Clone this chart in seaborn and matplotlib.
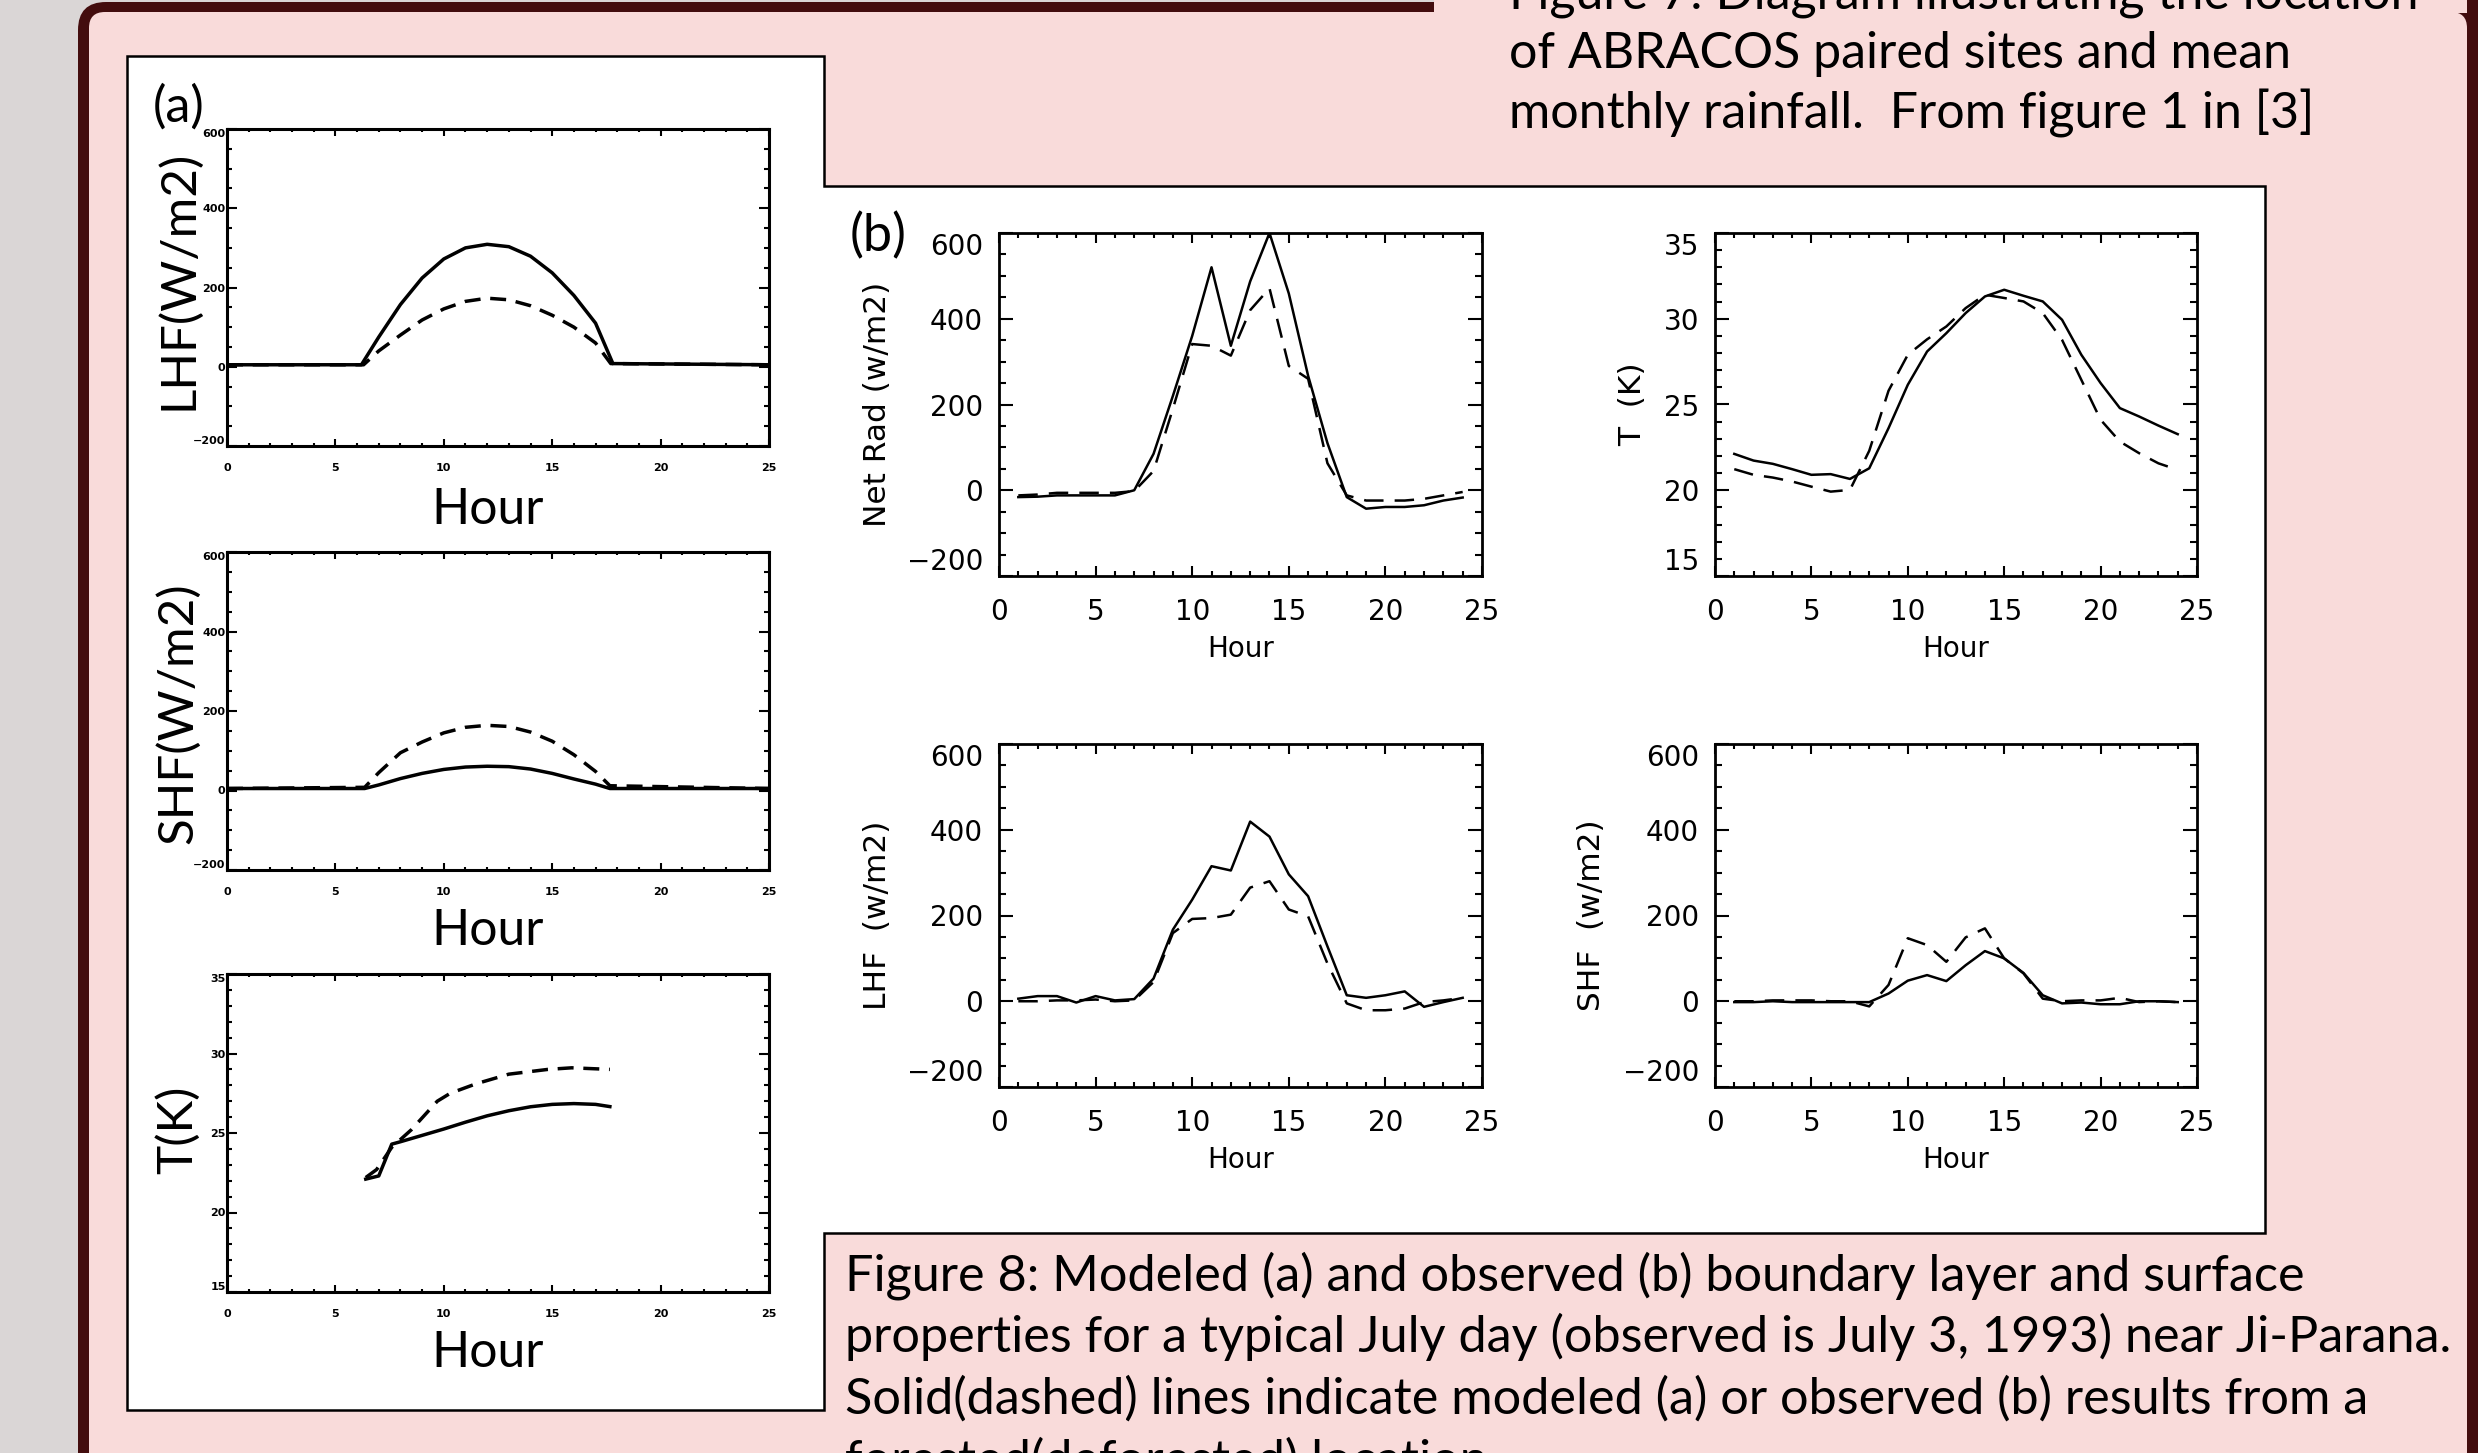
import matplotlib
matplotlib.use("Agg")
import matplotlib.pyplot as plt
import seaborn as sns
from matplotlib.patches import FancyBboxPatch, Rectangle, Polygon
from matplotlib.transforms import Affine2D
from matplotlib.ticker import MultipleLocator
from matplotlib import font_manager as fm

# ---------------------------------------------------------------- data
# (a) modeled, solid = forested, dashed = deforested
a_lhf_hour_forest = [0, 6.2, 7, 8, 9, 10, 11, 12, 13, 14, 15, 16, 17, 17.8, 25]
a_lhf_forest = [5, 5, 75, 157, 224, 272, 300, 309, 303, 279, 237, 180, 110, 8, 5]
a_lhf_hour_defor = [0, 6.3, 7, 8, 9, 10, 11, 12, 13, 14, 15, 16, 17, 17.7, 25]
a_lhf_defor = [5, 5, 40, 80, 118, 146, 165, 173, 169, 154, 130, 100, 60, 8, 5]

a_shf_hour = [0, 6.35, 7, 8, 9, 10, 11, 12, 13, 14, 15, 16, 17, 17.66, 25]
a_shf_forest = [5, 5, 14, 30, 43, 53, 59, 61, 60, 54, 43, 29, 16, 5, 5]
a_shf_defor = [5, 8, 45, 95, 122, 145, 159, 164, 161, 147, 124, 90, 48, 12, 5]

a_t_hour_forest = [6.4, 7.0, 7.6, 8, 9, 10, 11, 12, 13, 14, 15, 16, 17, 17.66]
a_t_forest = [22.1, 22.3, 24.3, 24.45, 24.85, 25.25, 25.68, 26.08, 26.4, 26.65,
              26.8, 26.85, 26.8, 26.66]
a_t_hour_defor = [6.4, 6.9, 7.6, 8.5, 9.7, 10.3, 11.5, 13.0, 14.8, 15.9, 17.66]
a_t_defor = [22.2, 22.7, 24.1, 25.2, 27.0, 27.5, 28.1, 28.7, 29.0, 29.1, 29.0]

# (b) observed, July 3 1993, solid = forested, dashed = deforested
b_hour = list(range(1, 25))
b_netrad_forest = [-16, -15, -12, -12, -12, -12, 0, 85, 220, 360, 520, 337,
                   487, 600, 459, 267, 110, -16, -43, -39, -39, -35, -24, -17]
b_netrad_defor = [-12, -10, -6, -6, -6, -6, -2, 45, 190, 341, 337, 314,
                  420, 471, 290, 260, 63, -12, -24, -24, -24, -20, -12, -4]
b_t_forest = [22.12, 21.73, 21.54, 21.23, 20.9, 20.94, 20.66, 21.28, 23.62, 26.15,
              28.09, 29.16, 30.33, 31.3, 31.69, 31.34, 31.01, 29.94, 27.9, 26.25,
              24.79, 24.3, 23.77, 23.27]
b_t_defor = [21.23, 20.9, 20.74, 20.51, 20.21, 19.92, 20.02, 22.3, 25.8, 27.9,
             28.8, 29.55, 30.62, 31.4, 31.21, 31.01, 30.33, 28.77, 26.44, 24.11,
             22.84, 22.16, 21.57, 21.19]
b_lhf_forest = [6, 12, 12, -3, 12, 2, 5, 53, 167, 237, 315, 305, 419, 384, 296,
                245, 128, 14, 8, 14, 23, -13, -2, 8]
b_lhf_defor = [0, 0, 2, 2, 4, 0, 2, 45, 159, 192, 194, 202, 265, 280, 214, 198,
               88, -5, -21, -21, -17, -2, 2, 8]
b_shf_forest = [-2, -2, 0, -2, -2, -2, -2, -2, 18, 48, 61, 47, 84, 117, 100, 66,
                14, -5, -3, -7, -7, 0, 0, -2]
b_shf_defor = [0, 0, 2, 2, 2, 0, 0, -12, 38, 147, 131, 92, 149, 170, 100, 65,
               6, 0, 2, 2, 8, -2, 0, -2]

flux_ticks = [-200, 0, 200, 400, 600]
temp_ticks = [15, 20, 25, 30, 35]
hour_ticks = [0, 5, 10, 15, 20, 25]

a_ylabels = ["LHF(W/m2)", "SHF(W/m2)", "T(K)"]
b_ylabels = ["Net Rad (w/m2)", "T  (K)", "LHF  (w/m2)", "SHF  (w/m2)"]

top_lines = ["Figure 7: Diagram illustrating the location",
             "of ABRACOS paired sites and mean",
             "monthly rainfall.  From figure 1 in [3]"]
caption_lines = ["Figure 8: Modeled (a) and observed (b) boundary layer and surface",
                 "properties for a typical July day (observed is July 3, 1993) near Ji-Parana.",
                 "Solid(dashed) lines indicate modeled (a) or observed (b) results from a",
                 "forested(deforested) location."]

# ---------------------------------------------------------------- style
plt.rcParams['lines.scale_dashes'] = False
plt.rcParams['font.family'] = ['DejaVu Sans']
names = {f.name for f in fm.fontManager.ttflist}
POSTER = 'Lato' if 'Lato' in names else 'DejaVu Sans'
NARROW = 'Liberation Sans Narrow' if 'Liberation Sans Narrow' in names else 'DejaVu Sans'

GREY = '#DAD6D6'
PINK = '#F9DBDA'
MAROON = '#430D0E'

W, H = 2478, 1453
fig = plt.figure(figsize=(W / 100, H / 100), dpi=100)
fig.patch.set_facecolor(GREY)
PX = Affine2D().scale(1.0 / W, -1.0 / H).translate(0, 1) + fig.transFigure

# poster panel background
fig.add_artist(FancyBboxPatch((78, 2), 2478 - 78 + 40, 1700,
                              boxstyle='round,pad=0,rounding_size=28',
                              transform=PX, fc=MAROON, ec='none', zorder=-10))
fig.add_artist(FancyBboxPatch((89, 12), 2467 - 89, 1700,
                              boxstyle='round,pad=0,rounding_size=16',
                              transform=PX, fc=PINK, ec='none', zorder=-9))
fig.add_artist(Rectangle((1434, 0), 2467 - 1434, 13, transform=PX,
                         fc=PINK, ec='none', zorder=-8))
fig.add_artist(Rectangle((2467, 0), 12, H, transform=PX,
                         fc=MAROON, ec='none', zorder=-8))
# white figure frame (union of (a) and (b) boxes)
frame = [(127, 56), (824, 56), (824, 186), (2265, 186), (2265, 1233),
         (824, 1233), (824, 1410), (127, 1410)]
fig.add_artist(Polygon(frame, closed=True, transform=PX, fc='white',
                       ec='black', lw=1.8, zorder=-5, joinstyle='miter'))


def axes_px(x0, y0, x1, y1):
    ax = fig.add_axes([x0 / W, 1 - y1 / H, (x1 - x0) / W, (y1 - y0) / H])
    ax.set_facecolor('white')
    return ax


def draw(ax, x, y, lw, dash=None):
    sns.lineplot(x=x, y=y, ax=ax, color='black', linewidth=lw,
                 estimator=None, sort=False)
    ln = ax.lines[-1]
    if dash is not None:
        ln.set_dashes(dash)


def fmt(v):
    return str(v).replace('-', '\u2212')


def style(ax, yticks, yminor, ylim, family, fs, weight, xpad, ypad,
          xlen, ylen, spw, tw):
    ax.set_xlim(0, 25)
    ax.set_ylim(*ylim)
    ax.set_xticks(hour_ticks)
    ax.set_yticks(yticks)
    ax.xaxis.set_minor_locator(MultipleLocator(1))
    ax.yaxis.set_minor_locator(MultipleLocator(yminor))
    ax.tick_params(which='both', direction='in', top=True, right=True,
                   width=tw, colors='black')
    ax.tick_params(axis='x', which='major', length=xlen, pad=xpad)
    ax.tick_params(axis='x', which='minor', length=xlen / 2)
    ax.tick_params(axis='y', which='major', length=ylen, pad=ypad)
    ax.tick_params(axis='y', which='minor', length=ylen / 2)
    ax.set_xticklabels([fmt(v) for v in hour_ticks], fontsize=fs,
                       family=family, fontweight=weight)
    labs = ax.set_yticklabels([fmt(v) for v in yticks], fontsize=fs,
                              family=family, fontweight=weight)
    labs[0].set_va('bottom')
    labs[-1].set_va('top')
    for s in ax.spines.values():
        s.set_linewidth(spw)
        s.set_color('black')
    ax.set_xlabel('')
    ax.set_ylabel('')


# ---------------------------------------------------------------- (a) panels
A_LW = 2.5
A_DASH = (11.5, 7.0)
a_boxes = [(227, 129, 769, 446), (227, 552, 769, 870), (227, 974, 769, 1292)]
a_axes = [axes_px(*b) for b in a_boxes]

draw(a_axes[0], a_lhf_hour_defor, a_lhf_defor, A_LW, A_DASH)
draw(a_axes[0], a_lhf_hour_forest, a_lhf_forest, A_LW)
draw(a_axes[1], a_shf_hour, a_shf_defor, A_LW, A_DASH)
draw(a_axes[1], a_shf_hour, a_shf_forest, A_LW)
draw(a_axes[2], a_t_hour_defor, a_t_defor, A_LW, A_DASH)
draw(a_axes[2], a_t_hour_forest, a_t_forest, A_LW)

for ax, yt, ymn, yl in zip(a_axes, [flux_ticks, flux_ticks, temp_ticks],
                           [50, 50, 1], [(-200, 600), (-200, 600), (15, 35)]):
    style(ax, yt, ymn, yl, NARROW, 8, 'bold', 12, 1.0, 5.0, 7.2, 2.2, 1.5)

# ---------------------------------------------------------------- (b) panels
B_LW = 1.8
B_DASH = (14, 8)
b_boxes = [(999, 233, 1482, 576), (1715, 233, 2197, 576),
           (999, 744, 1482, 1087), (1715, 744, 2197, 1087)]
b_axes = [axes_px(*b) for b in b_boxes]
b_data = [(b_netrad_forest, b_netrad_defor), (b_t_forest, b_t_defor),
          (b_lhf_forest, b_lhf_defor), (b_shf_forest, b_shf_defor)]
for ax, (sol, das) in zip(b_axes, b_data):
    draw(ax, b_hour, das, B_LW, B_DASH)
    draw(ax, b_hour, sol, B_LW)

b_yt = [flux_ticks, temp_ticks, flux_ticks, flux_ticks]
b_ym = [50, 1, 50, 50]
b_yl = [(-200, 600), (15, 35), (-200, 600), (-200, 600)]
b_labx = [877, 1633, 877, 1592]
for i, ax in enumerate(b_axes):
    style(ax, b_yt[i], b_ym[i], b_yl[i], 'DejaVu Sans', 20, 'normal',
          16, 11.5, 7.2, 10, 2.0, 1.5)
    x0, y0, x1, y1 = b_boxes[i]
    ax.set_ylabel(b_ylabels[i], fontsize=22.5, family='DejaVu Sans')
    ax.yaxis.label.set_va('center')
    ax.yaxis.set_label_coords((b_labx[i] - x0) / (x1 - x0), 0.5)
    ax.set_xlabel('Hour', fontsize=20, family='DejaVu Sans')
    ax.xaxis.label.set_va('baseline')
    ax.xaxis.set_label_coords(0.5, -81.0 / (y1 - y0))

# ---------------------------------------------------------------- poster text
R = fig.canvas.get_renderer()


def fit(t, target, use_height=False):
    bb = t.get_window_extent(R)
    cur = bb.height if use_height else bb.width
    t.set_fontsize(t.get_fontsize() * target / cur)
    return t.get_fontsize()


def ptext(x, y, s, **kw):
    return fig.text(x, y, s, transform=PX, family=POSTER, color='black', **kw)


# (a) y labels
a_lab_y = [280, 713, 1130]
t0 = ptext(178, a_lab_y[0], a_ylabels[0], rotation=90, ha='center', va='center',
           fontsize=30)
fs_alab = fit(t0, 260, use_height=True)
for lab, yc in zip(a_ylabels[1:], a_lab_y[1:]):
    ptext(178, yc, lab, rotation=90, ha='center', va='center', fontsize=fs_alab)
# (a) Hour labels
th = ptext(488, a_boxes[0][3] + 78, 'Hour', ha='center', va='baseline',
           fontsize=30)
fs_hour = fit(th, 112)
for b in a_boxes[1:]:
    ptext(488, b[3] + 75, 'Hour', ha='center', va='baseline', fontsize=fs_hour)

ta = ptext(153, 107, '(a)', ha='left', va='center', fontsize=30)
fit(ta, 52)
tb = ptext(850, 236, '(b)', ha='left', va='center', fontsize=30)
fit(tb, 57)

# top-right text (Figure 7 caption, partly cut off at the top edge)
top_base = [8, 68, 129]
tt = ptext(1509, top_base[1], top_lines[1], ha='left', va='baseline', fontsize=30)
fs_top = fit(tt, 781)
for s, yb in zip([top_lines[0], top_lines[2]], [top_base[0], top_base[2]]):
    ptext(1509, yb, s, ha='left', va='baseline', fontsize=fs_top)

# Figure 8 caption (last line runs off the bottom edge, as in the poster)
cap_base = [1290, 1352, 1414, 1476]
tc = ptext(845, cap_base[0], caption_lines[0], ha='left', va='baseline', fontsize=30)
fs_cap = fit(tc, 1460)
for s, yb in zip(caption_lines[1:], cap_base[1:]):
    ptext(845, yb, s, ha='left', va='baseline', fontsize=fs_cap)

fig.savefig('out.png', dpi=100, facecolor=fig.get_facecolor())
